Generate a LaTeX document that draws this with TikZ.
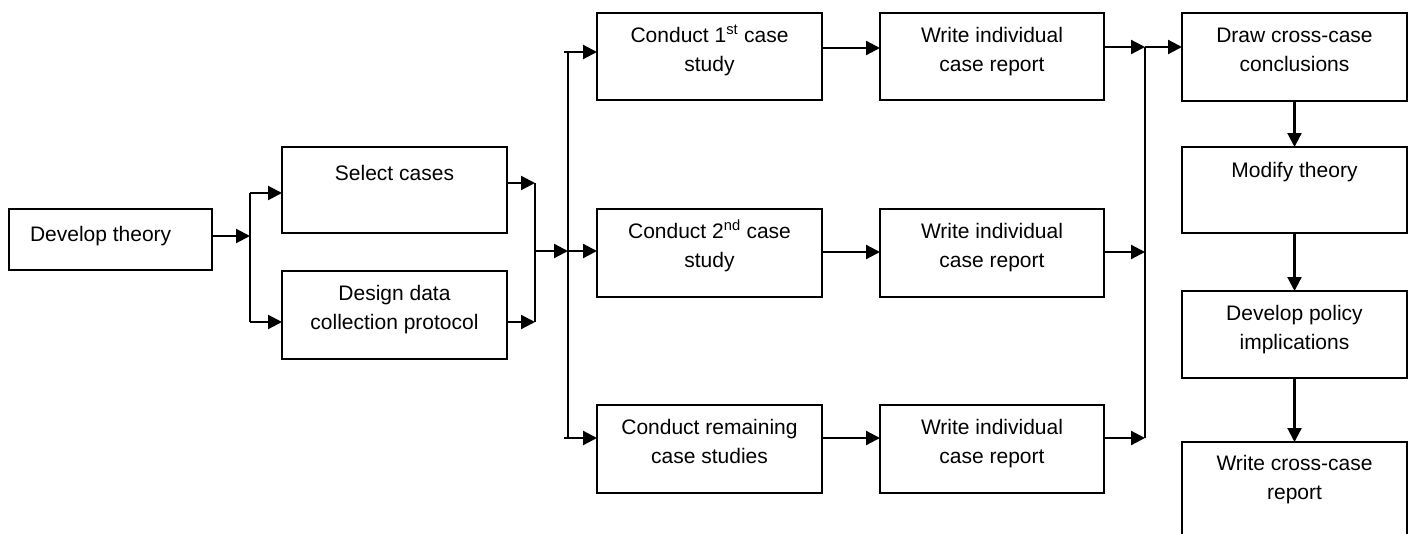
\documentclass[tikz,border=0pt]{standalone}
\usepackage{fontspec}
\setmainfont{Liberation Sans}
\usetikzlibrary{arrows.meta}
\newcommand\mybox[7]{%
  \pgfmathsetlengthmacro\bw{(#4)-(#2)}%
  \pgfmathsetlengthmacro\bh{(#5)-(#3)}%
  \node[boxst] (#1) at ({(#2+#4)/2},{(#3+#5)/2})
    {\parbox[c][\bh][t]{\bw}{\centering\rule{0pt}{#6pt}#7}};}
\begin{document}
\begin{tikzpicture}[x=1pt,y=-1pt,
  boxst/.style={draw, line width=2pt, inner sep=0pt, outer sep=0pt,
    font=\fontsize{21}{29}\selectfont},
  ln/.style={line width=2.2pt},
  arr/.style={line width=2.2pt, -{Triangle[length=14pt,width=14pt]}}]
\useasboundingbox (0,0) rectangle (1408,533);
% boxes
\mybox{dt}{9}{209}{212}{270}{32.5}{\raggedright\hspace*{21pt}Develop theory}
\mybox{sc}{282}{147}{507}{233}{33.5}{Select cases}
\mybox{dd}{282}{271}{507}{359}{29.5}{Design data\\collection protocol}
\mybox{c1}{597}{13}{822}{100}{29.5}{Conduct 1\textsuperscript{st} case\\study}
\mybox{c2}{597}{209}{822}{297}{29.5}{Conduct 2\textsuperscript{nd} case\\study}
\mybox{c3}{597}{405}{822}{493}{29.5}{Conduct remaining\\case studies}
\mybox{w1}{880}{13}{1104}{100}{29.5}{Write individual\\case report}
\mybox{w2}{880}{209}{1104}{297}{29.5}{Write individual\\case report}
\mybox{w3}{880}{405}{1104}{493}{29.5}{Write individual\\case report}
\mybox{dc}{1182}{13}{1407}{101}{29.5}{Draw cross-case\\conclusions}
\mybox{mt}{1182}{147}{1407}{233}{30.5}{Modify theory}
\mybox{dp}{1182}{291}{1407}{378}{29.5}{Develop policy\\implications}
\mybox{wc}{1182}{442}{1407}{545}{28.5}{Write cross-case\\report}
% junction coordinates
\coordinate (j1) at (250,236);
\coordinate (j1t) at (250,193);
\coordinate (j1b) at (250,322);
\coordinate (j2t) at (535,183);
\coordinate (j2) at (535,251);
\coordinate (j2b) at (535,322);
\coordinate (j3) at (568,251);
\coordinate (j3t) at (568,52);
\coordinate (j3b) at (568,438);
\coordinate (r1) at (700,48);
\coordinate (r2) at (700,252);
\coordinate (r3) at (700,438);
\coordinate (j4t) at (1145,47);
\coordinate (j4) at (1145,252);
\coordinate (j4b) at (1145,438);
% connectors
\draw[arr] (dt.east |- j1) -- (j1);
\draw[ln] (j1t) -- (j1b);
\draw[arr] (j1t) -- (sc.west |- j1t);
\draw[arr] (j1b) -- (dd.west |- j1b);
\draw[arr] (sc.east |- j2t) -- (j2t);
\draw[arr] (dd.east |- j2b) -- (j2b);
\draw[ln] (j2t) -- (j2b);
\draw[arr] (j2) -- (j3);
\draw[ln] (j3t) -- (j3b);
\draw[arr] ([xshift=-4pt]j3t) -- (c1.west |- j3t);
\draw[arr] (j3) -- (c2.west |- j3);
\draw[arr] ([xshift=-4pt]j3b) -- (c3.west |- j3b);
\draw[arr] (c1.east |- r1) -- (w1.west |- r1);
\draw[arr] (c2.east |- r2) -- (w2.west |- r2);
\draw[arr] (c3.east |- r3) -- (w3.west |- r3);
\draw[arr] (w1.east |- j4t) -- (j4t);
\draw[arr] (w2.east |- j4) -- (j4);
\draw[arr] (w3.east |- j4b) -- (j4b);
\draw[ln] (j4t) -- (j4b);
\draw[arr] (j4t) -- (dc.west |- j4t);
\draw[arr] (dc.south) -- (mt.north);
\draw[arr] (mt.south) -- (dp.north);
\draw[arr] (dp.south) -- (wc.north);
\end{tikzpicture}
\end{document}
